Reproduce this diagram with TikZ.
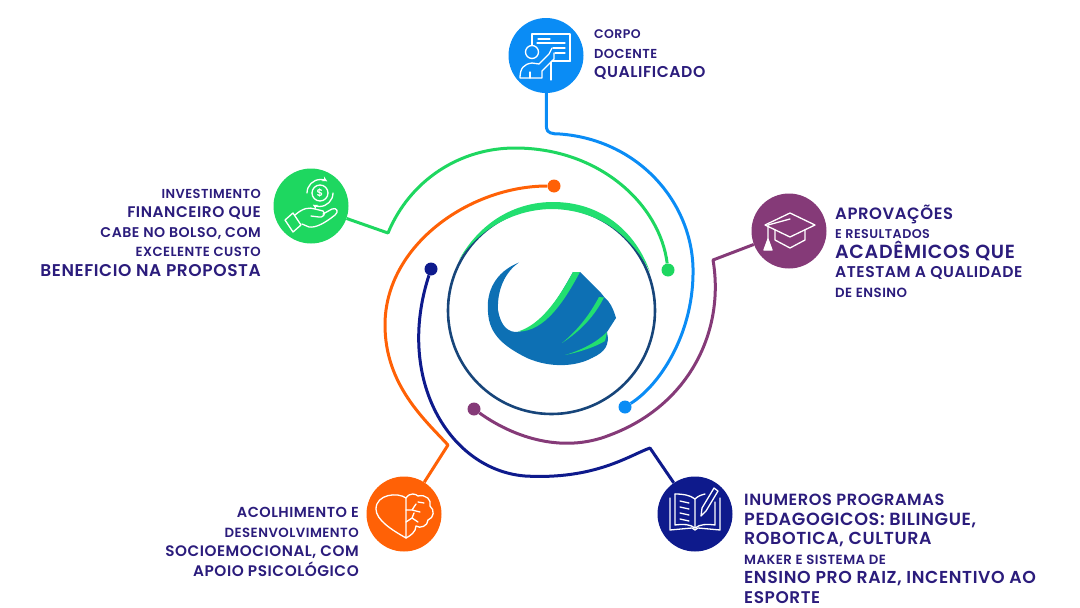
\documentclass[tikz,border=0pt]{standalone}
\usepackage{fontspec}
\setmainfont{Poppins SemiBold}[LetterSpace=3.5]
\definecolor{azul}{HTML}{0A8CF5}
\definecolor{verde}{HTML}{1ED760}
\definecolor{roxo}{HTML}{853A78}
\definecolor{marinho}{HTML}{0E1A8C}
\definecolor{laranja}{HTML}{FF6106}
\definecolor{tinta}{HTML}{2B1C7C}
\definecolor{anel}{HTML}{17457A}
\definecolor{logoazul}{HTML}{0D70B4}
\definecolor{logoverde}{HTML}{22DF70}
\newcommand{\ft}[1]{\fontsize{#1}{19.5}\selectfont}
\begin{document}
\begin{tikzpicture}[x=1pt,y=-1pt]
\tikzstyle{hub}=[circle, minimum size=75pt, inner sep=0pt]
\tikzstyle{dot}=[circle, minimum size=13pt, inner sep=0pt]
\tikzstyle{wire}=[line width=3pt, line join=round]
\tikzstyle{ico}=[white, line width=1.3pt, line join=round, line cap=round]
\tikzstyle{rotulo}=[text=tinta, inner sep=0pt, font=\ft{12}]
\useasboundingbox (0,0) rectangle (1080,608);

% ring and logo
\node[circle, draw=anel, line width=2.6pt, minimum size=207pt, inner sep=0pt] (ring) at (551.5,310.5) {};
\fill[logoverde] (459,260) .. controls (480,222) and (515,202) .. (553,202) .. controls (600,202) and (635,230) .. (650,272)
  .. controls (630,232) and (595,210) .. (553,209) .. controls (515,209) and (480,228) .. (459,260) -- cycle;
\fill[logoazul] (519,262.5) .. controls (495,272) and (486,292) .. (488,312) .. controls (489,335) and (505,347) .. (527,358)
  .. controls (550,368) and (575,367) .. (592,358) .. controls (605,352) and (610,345) .. (607,332) -- (616,318)
  .. controls (613,308) and (610,302) .. (605,298) -- (601,293) -- (580,272) -- (573,272)
  .. controls (560,295) and (540,332) .. (515,332) .. controls (505,331) and (500,322) .. (498,310) .. controls (497,290) and (505,272) .. (519,262.5) -- cycle;
\fill[logoverde] (573,272) -- (580,272) .. controls (565,300) and (545,332) .. (518,331.5) .. controls (540,325) and (558,300) .. (573,272) -- cycle;
\fill[logoverde] (599,297) -- (604,297.5) .. controls (595,315) and (582,330) .. (562,343) .. controls (578,330) and (590,314) .. (599,297) -- cycle;
\fill[logoverde] (607,332) -- (605,341) .. controls (595,347) and (580,352) .. (565,355) .. controls (582,350) and (597,342) .. (607,332) -- cycle;

% hubs and end dots
\foreach \n/\c/\x/\y in {hubazul/azul/546/55.5, hubverde/verde/311/206, hubroxo/roxo/789/231, hubmarinho/marinho/695/514, hublaranja/laranja/404/514} {
  \node[hub, fill=\c] (\n) at (\x,\y) {};}
\foreach \n/\c/\x/\y in {dotazul/azul/625/407, dotverde/verde/668/270, dotroxo/roxo/474/409, dotmarinho/marinho/431/269, dotlaranja/laranja/554/186} {
  \node[dot, fill=\c] (\n) at (\x,\y) {};}

% bends of the connectors
\coordinate (a1) at (546.5,128);
\coordinate (v1) at (388,233);
\coordinate (r1) at (713,260);
\coordinate (m1) at (650,448);
\coordinate (l1) at (448,445);

\draw[wire, azul] (hubazul) -- (a1) .. controls (547,133) and (552,134) .. (560,134) .. controls (640,140) and (695,205) .. (693,275) .. controls (692,335) and (660,385) .. (dotazul);
\draw[wire, verde] (hubverde) -- (v1) .. controls (410,180) and (460,148) .. (515,148) .. controls (600,148) and (660,205) .. (dotverde);
\draw[wire, roxo] (hubroxo) -- (r1) .. controls (725,330) and (690,405) .. (610,435) .. controls (560,455) and (510,435) .. (dotroxo);
\draw[wire, marinho] (hubmarinho) -- (m1) .. controls (630,455) and (595,480) .. (525,476) .. controls (450,470) and (395,380) .. (dotmarinho);
\draw[wire, laranja] (hublaranja) -- (l1) .. controls (425,420) and (385,385) .. (385,325) .. controls (385,245) and (470,186) .. (dotlaranja);

% icon: teacher
\begin{scope}[shift={(546,56)}]
\draw[ico] (-14,-11) |- (24,-22) |- (6,5);
\draw[ico] (-14,-4) circle (6.5);
\draw[ico] (-8,-17) -- (4,-17) (-9,-13) -- (19,-13) (7,-8) -- (19,-8) (9,-3) -- (19,-3);
\draw[ico, line width=2.4pt] (14,5) -- (24,5);
\draw[ico] (-26,22) .. controls (-26,12) and (-22,8) .. (-14,7) -- (-7,8) -- (3,-2) -- (6,-8) (8,-3) -- (8,3) -- (-4,15) -- (-4,22) -- (-26,22);
\draw[ico] (5,6) -- (5,24) (-16,22) -- (-16,16);
\end{scope}

% icon: hand and coin
\begin{scope}[shift={(311,206)}]
\draw[ico] (9,-13) circle (8);
\node[text=white, font=\ft{10}] (cifrao) at (9,-13) {\$};
\draw[ico, -stealth] (-4,-13) arc (180:300:13.5);
\draw[ico, -stealth] (22,-13) arc (0:120:13.5);
\draw[ico] (-26,14) -- (-18,7) -- (-10,19) -- (-18,26) -- cycle;
\draw[ico] (-16,9) .. controls (-8,2) and (-2,1) .. (4,3) -- (12,5) .. controls (16,8) and (11,12) .. (8,11) -- (0,10);
\draw[ico] (12,8) -- (21,3) .. controls (26,1) and (28,6) .. (24,9) .. controls (14,17) and (5,22) .. (-2,21) -- (-9,18);
\end{scope}

% icon: cap
\begin{scope}[shift={(789,231)}]
\draw[ico] (-24,-6) -- (1,-18) -- (26,-6) -- (1,6) -- cycle;
\draw[ico] (-14,-1) -- (-14,9) -- (1,17) -- (16,9) -- (16,-1);
\draw[ico] (1,-12) -- (-21,-6) -- (-21,8);
\draw[ico, fill=white] (-21,8) -- (-25,19) -- (-17,19) -- cycle;
\end{scope}

% icon: book
\begin{scope}[shift={(695,514)}]
\draw[ico] (-25,-16) -- (-25,16) -- (-3,14) -- (0,16) -- (3,14) -- (25,16) -- (25,-16);
\draw[ico] (-20,-20) .. controls (-12,-20) and (-5,-19) .. (0,-15) -- (0,14);
\draw[ico] (-20,-20) -- (-20,11) .. controls (-12,10) and (-5,10) .. (0,14) .. controls (5,10) and (12,10) .. (20,11) -- (20,-12);
\draw[ico] (0,-15) .. controls (3,-18) and (6,-19) .. (10,-20);
\draw[ico] (-15,-13) -- (-6,-11) (-15,-7) -- (-6,-5) (-15,-1) -- (-6,1) (-15,5) -- (-6,7);
\draw[ico] (19,-26) -- (23,-23) -- (11,-3) -- (6,2) -- (7,-6) -- cycle;
\end{scope}

% icon: heart and brain
\begin{scope}[shift={(404,514)}]
\draw[ico] (2,-16) .. controls (-6,-22) and (-28,-20) .. (-28,-5) .. controls (-28,6) and (-12,16) .. (2,24) -- cycle;
\draw[ico] (2,-16) .. controls (6,-22) and (12,-20) .. (14,-18) .. controls (22,-20) and (28,-14) .. (26,-8)
  .. controls (31,-4) and (30,4) .. (24,6) .. controls (24,12) and (16,15) .. (12,12) .. controls (12,18) and (6,22) .. (2,24);
\draw[ico] (2,-4) -- (8,-4) -- (12,-10) (8,-4) -- (16,-2) (2,8) -- (8,4) -- (10,-1) (8,4) -- (14,8) (14,-12) -- (20,-11);
\end{scope}

% labels
\node[rotulo, anchor=north west, align=left] (txtazul) at (594,29.5) {\ft{12.5}CORPO\\\ft{13}DOCENTE\\\ft{15.7}QUALIFICADO};
\node[rotulo, anchor=north east, align=right] (txtverde) at (261,189) {\ft{13}INVESTIMENTO\\\ft{15.4}FINANCEIRO QUE\\\ft{14.1}CABE NO BOLSO, COM\\\ft{13.2}EXCELENTE CUSTO\\\ft{17}BENEFICIO NA PROPOSTA};
\node[rotulo, anchor=north west, align=left] (txtroxo) at (835,204.5) {\ft{16.4}APROVAÇÕES\\\ft{12.7}E RESULTADOS\\\ft{19}ACADÊMICOS QUE\\\ft{15.6}ATESTAM A QUALIDADE\\\ft{13.3}DE ENSINO};
\node[rotulo, anchor=north west, align=left] (txtmarinho) at (744,494) {\ft{16.2}INUMEROS PROGRAMAS\\\ft{17.6}PEDAGOGICOS: BILINGUE,\\\ft{17.4}ROBOTICA, CULTURA\\\ft{13.3}MAKER E SISTEMA DE\\\ft{17.3}ENSINO PRO RAIZ, INCENTIVO AO\\\ft{16.9}ESPORTE};
\node[rotulo, anchor=north east, align=right] (txtlaranja) at (359,507.5) {\ft{14.5}ACOLHIMENTO E\\\ft{13.3}DESENVOLVIMENTO\\\ft{15.2}SOCIOEMOCIONAL, COM\\\ft{15.3}APOIO PSICOLÓGICO};
\end{tikzpicture}
\end{document}
